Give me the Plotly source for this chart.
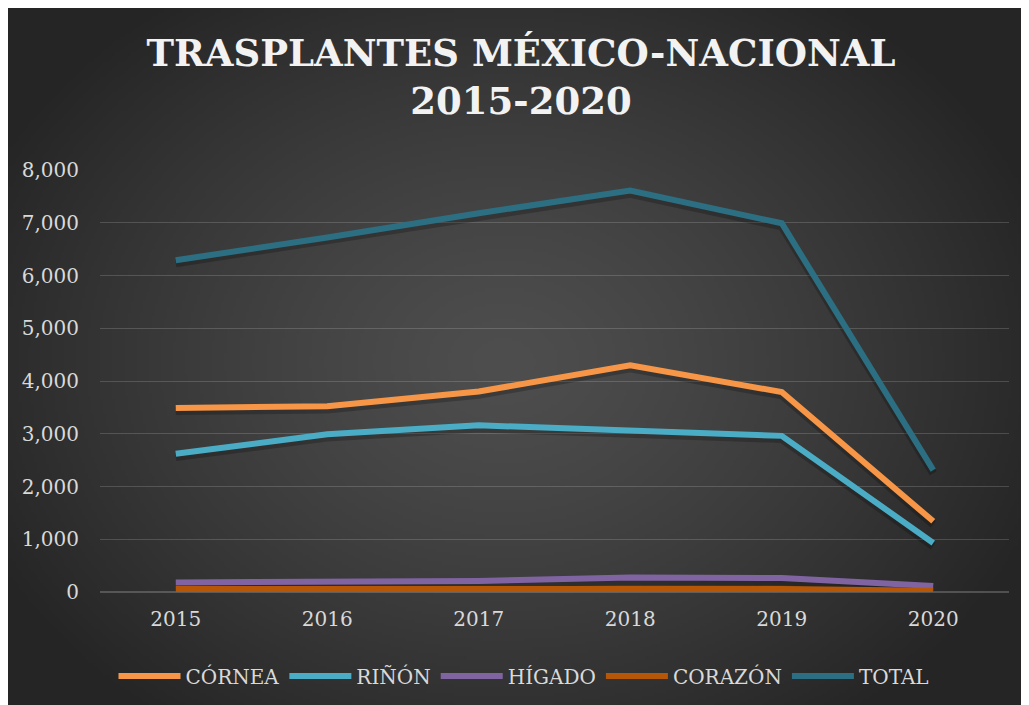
import base64, struct, zlib
import numpy as np
import plotly.graph_objects as go

years = [2015, 2016, 2017, 2018, 2019, 2020]
cornea = [3490, 3520, 3800, 4300, 3790, 1340]
rinon = [2620, 2990, 3160, 3070, 2960, 930]
higado = [180, 190, 210, 275, 265, 115]
corazon = [55, 58, 60, 62, 58, 25]
total = [6290, 6720, 7180, 7610, 6990, 2310]

series = [
    ("CÓRNEA", cornea, "#F79646"),
    ("RIÑÓN", rinon, "#4BACC6"),
    ("HÍGADO", higado, "#8064A2"),
    ("CORAZÓN", corazon, "#B65708"),
    ("TOTAL", total, "#2C6F82"),
]

W, H = 1029, 705
L, R, T, B = 92, 28, 162, 121
pw, ph = W - L - R, H - T - B


def make_png(arr):
    h, w, _ = arr.shape
    raw = b"".join(b"\x00" + arr[i].tobytes() for i in range(h))
    def chunk(t, d):
        c = struct.pack(">I", len(d)) + t + d
        return c + struct.pack(">I", zlib.crc32(t + d) & 0xFFFFFFFF)
    png = b"\x89PNG\r\n\x1a\n"
    png += chunk(b"IHDR", struct.pack(">IIBBBBB", w, h, 8, 2, 0, 0, 0))
    png += chunk(b"IDAT", zlib.compress(raw, 9))
    png += chunk(b"IEND", b"")
    return "data:image/png;base64," + base64.b64encode(png).decode()


gw, gh = 340, 230
yy, xx = np.mgrid[0:gh, 0:gw]
cx, cy = gw * 0.48, gh * 0.50
d = np.sqrt(((xx - cx) / (gw * 0.56)) ** 2 + ((yy - cy) / (gh * 0.64)) ** 2)
d = np.clip(d, 0, 1)
v = 78 - (78 - 37) * d ** 1.3
img = np.repeat(v[:, :, None], 3, axis=2).astype(np.uint8)
bg_uri = make_png(img)

fig = go.Figure()

for name, vals, col in series:
    fig.add_trace(go.Scatter(
        x=years, y=[v_ - 60 for v_ in vals], mode="lines",
        line=dict(color="rgba(0,0,0,0.22)", width=8),
        showlegend=False, hoverinfo="skip"))

for name, vals, col in series:
    fig.add_trace(go.Scatter(
        x=years, y=vals, mode="lines", name=name,
        line=dict(color=col, width=6)))

fig.add_layout_image(dict(
    source=bg_uri, xref="paper", yref="paper",
    x=-L / pw, y=(H - B) / ph,
    sizex=W / pw, sizey=H / ph,
    sizing="stretch", xanchor="left", yanchor="top", layer="below"))

fig.update_layout(
    width=W, height=H,
    margin=dict(l=L, r=R, t=T, b=B),
    paper_bgcolor="#2a2a2a",
    plot_bgcolor="rgba(0,0,0,0)",
    title=dict(
        text="TRASPLANTES MÉXICO-NACIONAL<br>2015-2020",
        font=dict(family="DejaVu Serif", size=37, color="#F2F2F2", weight="bold"),
        x=(521 - 8) / W, xref="container", xanchor="center",
        y=1 - 58 / H, yref="container", yanchor="middle"),
    xaxis=dict(
        range=[2014.5, 2020.5], tickvals=years, ticktext=[str(y) for y in years],
        showgrid=False, zeroline=False, showline=False,
        tickfont=dict(family="DejaVu Serif", size=20, color="#D9D9D9"),
        ticklabelstandoff=13),
    yaxis=dict(
        range=[0, 8000], dtick=1000, tickformat=",",
        showgrid=True, gridcolor="rgba(255,255,255,0.16)", gridwidth=1.3,
        zeroline=True, zerolinecolor="rgba(255,255,255,0.2)", zerolinewidth=1.5,
        tickfont=dict(family="DejaVu Serif", size=20, color="#D9D9D9"),
        ticklabelstandoff=20),
    legend=dict(
        orientation="h", xref="container", x=516 / W, xanchor="center",
        yref="container", y=1 - 668 / H, yanchor="middle",
        font=dict(family="DejaVu Serif", size=20, color="#D9D9D9"),
        bgcolor="rgba(0,0,0,0)", itemwidth=62, tracegroupgap=0),
    showlegend=True,
)

fig.write_html("out.html")
